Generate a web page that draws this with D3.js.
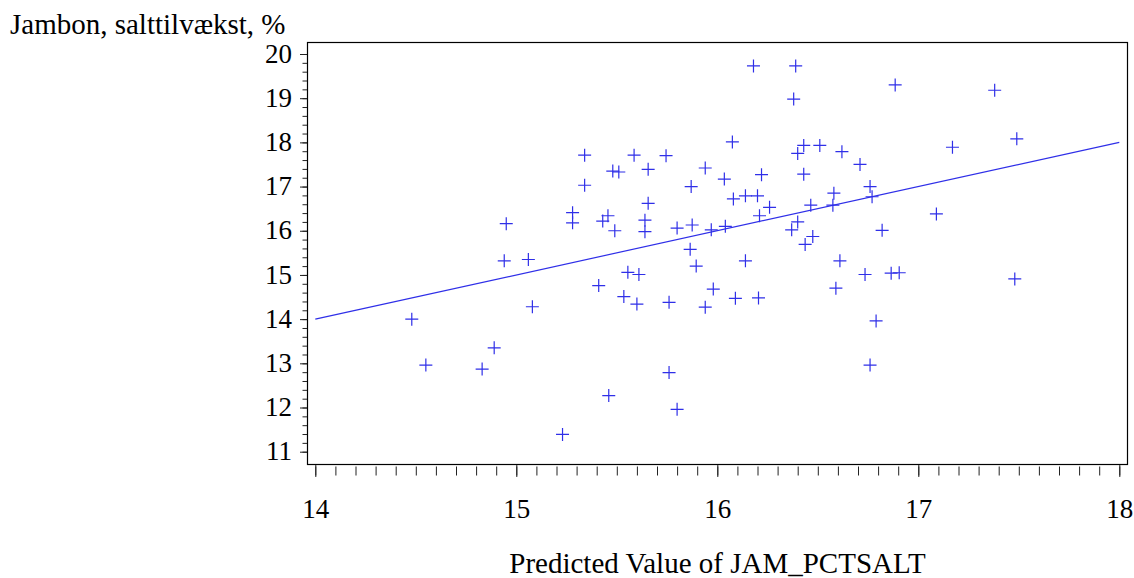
<!DOCTYPE html>
<html>
<head>
<meta charset="utf-8">
<script src="https://cdn.jsdelivr.net/npm/d3@7"></script>
<style>
  body { margin:0; background:#fff; }
  svg text { font-family: "Liberation Serif", "Tinos", "Times New Roman", "DejaVu Serif", serif; fill:#000; }
  .axis path.domain { display:none; }
  .axis line { stroke:#222; stroke-width:1px; }
</style>
</head>
<body>
<div id="chart"></div>
<script>
// predicted value (x) and observed salt growth (y)
var predicted = [14.48,14.55,14.83,14.89,14.94,14.95,15.06,15.08,15.23,15.28,15.28,15.34,15.34,15.41,15.43,15.456,15.46,15.48,15.51,15.49,
  15.535,15.555,15.586,15.60,15.61,15.64,15.64,15.656,15.656,15.745,15.76,15.76,15.80,15.80,15.865,15.87,15.875,15.895,15.94,15.94,
  15.97,15.98,16.035,16.04,16.075,16.08,16.09,16.14,16.14,16.18,16.20,16.205,16.21,16.22,16.26,16.37,16.38,16.39,16.40,16.40,
  16.43,16.43,16.437,16.465,16.475,16.51,16.575,16.58,16.59,16.61,16.62,16.71,16.735,16.76,16.77,16.76,16.79,16.82,16.865,16.885,
  16.905,17.09,17.17,17.38,17.48,17.49];
var observed = [14.0,12.96,12.87,13.35,15.32,16.16,15.35,14.28,11.39,16.41,16.18,17.71,17.03,14.76,16.22,16.34,12.27,17.35,17.33,16.0,
  14.51,15.06,17.71,14.34,15.01,16.24,15.98,17.39,16.62,17.70,14.38,12.79,16.06,11.96,15.58,17.0,16.13,15.20,17.42,14.27,
  16.02,14.68,17.17,16.10,18.01,16.72,14.47,16.79,15.32,19.73,16.79,14.48,16.34,17.27,16.53,16.02,18.98,19.73,17.75,16.20,
  17.93,17.28,15.69,16.58,15.87,17.93,16.58,16.85,14.70,15.32,17.79,17.50,15.01,17.0,16.77,12.96,13.96,16.01,15.04,19.30,
  15.05,16.38,17.89,19.18,14.91,18.08];
var fitLine = [[14,14],[18,18]];
var xTicks = [14,15,16,17,18];
var yTicks = [11,12,13,14,15,16,17,18,19,20];

var width = 1134, height = 578;
var frame = {left:307.5, top:42.5, right:1127.5, bottom:464.5};
var serif = '"Liberation Serif", "Tinos", "Times New Roman", "DejaVu Serif", serif';

var svg = d3.select("#chart").append("svg")
  .attr("width", width)
  .attr("height", height);

var xScale = d3.scaleLinear().domain([14,18]).range([315.3,1119.3]);
var yScale = d3.scaleLinear().domain([11,20]).range([451.7,54]);

// frame
svg.append("rect")
  .attr("x", frame.left).attr("y", frame.top)
  .attr("width", frame.right-frame.left)
  .attr("height", frame.bottom-frame.top)
  .attr("fill", "none")
  .attr("stroke", "#000")
  .attr("stroke-width", 1.2);

// minor ticks
var xMinor = d3.range(140,181).map(function(d){ return d/10; });
var yMinor = d3.range(55,101).map(function(d){ return d/5; });

svg.append("g")
  .attr("class", "x axis minor")
  .attr("transform", "translate(0,"+(frame.bottom+2)+")")
  .call(d3.axisBottom(xScale).tickValues(xMinor).tickSize(9).tickFormat(""));

svg.append("g")
  .attr("class", "y axis minor")
  .attr("transform", "translate("+(frame.left-0.5)+",0)")
  .call(d3.axisLeft(yScale).tickValues(yMinor).tickSize(4.5).tickFormat(""));

// major ticks
var xAxis = svg.append("g")
  .attr("class", "x axis")
  .attr("transform", "translate(0,"+(frame.bottom+0.5)+")")
  .call(d3.axisBottom(xScale).tickValues(xTicks).tickSize(12).tickPadding(22).tickFormat(d3.format("d")));
xAxis.attr("font-family", serif).attr("font-size", 27);
xAxis.selectAll("text").style("font-family", serif).style("font-size", "27px");

var yAxis = svg.append("g")
  .attr("class", "y axis")
  .attr("transform", "translate("+(frame.left-0.5)+",0)")
  .call(d3.axisLeft(yScale).tickValues(yTicks).tickSize(7).tickPadding(8).tickFormat(d3.format("d")));
yAxis.attr("font-family", serif).attr("font-size", 27);
yAxis.selectAll("text").style("font-family", serif).style("font-size", "27px").attr("dy", "0.3em");

// regression line
var line = d3.line()
  .x(function(d){ return xScale(d[0]); })
  .y(function(d){ return yScale(d[1]); });

svg.append("path")
  .datum(fitLine)
  .attr("d", line)
  .attr("fill", "none")
  .attr("stroke", "#2f2fe8")
  .attr("stroke-width", 1.2);

// points as plus markers
var pts = predicted.map(function(d,i){ return [d, observed[i]]; });
svg.append("g").attr("class", "points")
  .selectAll("path")
  .data(pts)
  .enter()
  .append("path")
  .attr("d", function(d){
    var cx = xScale(d[0]), cy = yScale(d[1]), r = 6.5;
    return "M"+(cx-r)+","+cy+"H"+(cx+r)+"M"+cx+","+(cy-r)+"V"+(cy+r);
  })
  .attr("fill", "none")
  .attr("stroke", "#2f2fe8")
  .attr("stroke-width", 1.2);

// labels
svg.append("text")
  .attr("x", 10)
  .attr("y", 34)
  .style("font-family", serif)
  .style("font-size", "29px")
  .text("Jambon, salttilvækst, %");

svg.append("text")
  .attr("x", (frame.left+frame.right)/2)
  .attr("y", 573)
  .attr("text-anchor", "middle")
  .style("font-family", serif)
  .style("font-size", "29px")
  .text("Predicted Value of JAM_PCTSALT");
</script>
</body>
</html>
